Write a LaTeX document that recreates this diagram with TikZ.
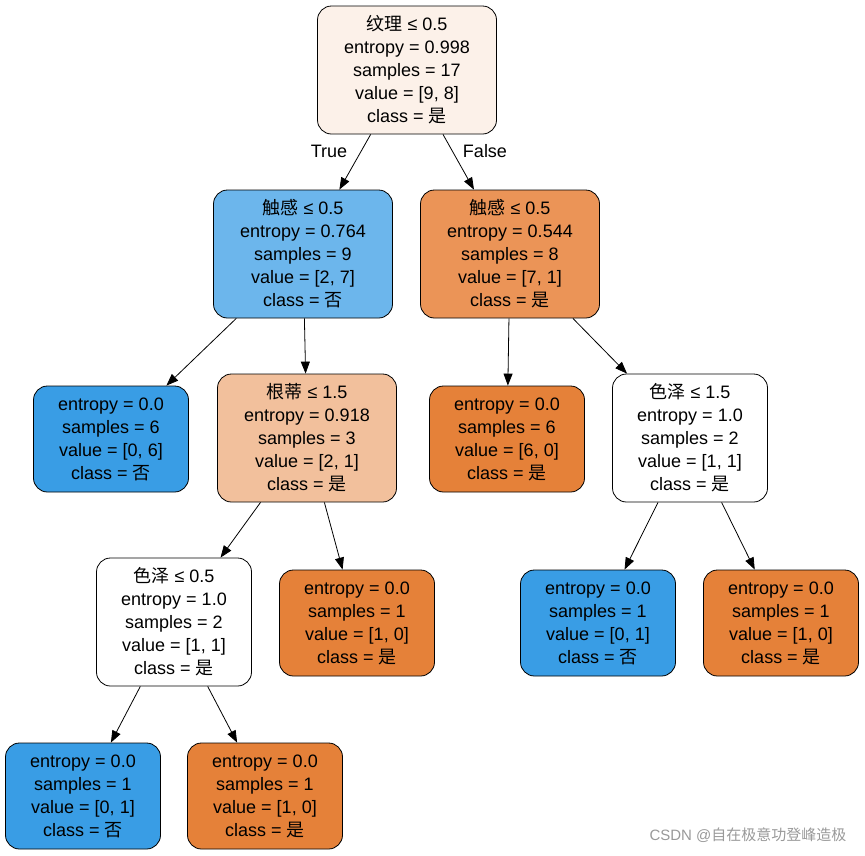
\documentclass[tikz,border=0pt]{standalone}
\usepackage{fontspec}
\setmainfont{Liberation Sans}
\newfontfamily\cjk{Noto Sans CJK SC}
\usetikzlibrary{arrows.meta}
\definecolor{croot}{HTML}{FCF1E9}
\definecolor{cl}{HTML}{6CB6EC}
\definecolor{cr}{HTML}{EB9457}
\definecolor{cb}{HTML}{399DE5}
\definecolor{co}{HTML}{E58139}
\definecolor{cg}{HTML}{F2C09C}
\begin{document}
\begin{tikzpicture}[x=1pt,y=-1pt,
 tn/.style={draw=black,line width=0.8pt,rounded corners=14pt,align=center,font=\fontsize{18}{23}\selectfont,inner sep=0pt},
 big/.style={tn,minimum width=179pt,minimum height=128pt},
 small/.style={tn,minimum width=155pt,minimum height=106pt},
 mid/.style={tn,minimum width=155pt,minimum height=128pt},
 ed/.style={line width=0.8pt,-{Triangle[length=12pt,width=9pt]}}]
\useasboundingbox (0,0) rectangle (865,855);
\node[big,fill=croot] (root) at (407,70) {{\cjk 纹理} ≤ 0.5\\entropy = 0.998\\samples = 17\\value = [9, 8]\\class = {\cjk 是}};
\node[big,fill=cl] (l1) at (303,254) {{\cjk 触感} ≤ 0.5\\entropy = 0.764\\samples = 9\\value = [2, 7]\\class = {\cjk 否}};
\node[big,fill=cr] (r1) at (510,254) {{\cjk 触感} ≤ 0.5\\entropy = 0.544\\samples = 8\\value = [7, 1]\\class = {\cjk 是}};
\node[small,fill=cb] (ll) at (111,439) {entropy = 0.0\\samples = 6\\value = [0, 6]\\class = {\cjk 否}};
\node[big,fill=cg] (gen) at (307,438) {{\cjk 根蒂} ≤ 1.5\\entropy = 0.918\\samples = 3\\value = [2, 1]\\class = {\cjk 是}};
\node[small,fill=co] (rl) at (507,439) {entropy = 0.0\\samples = 6\\value = [6, 0]\\class = {\cjk 是}};
\node[mid,fill=white] (sr) at (690,438) {{\cjk 色泽} ≤ 1.5\\entropy = 1.0\\samples = 2\\value = [1, 1]\\class = {\cjk 是}};
\node[mid,fill=white] (sl) at (174,622) {{\cjk 色泽} ≤ 0.5\\entropy = 1.0\\samples = 2\\value = [1, 1]\\class = {\cjk 是}};
\node[small,fill=co] (g2) at (357,623) {entropy = 0.0\\samples = 1\\value = [1, 0]\\class = {\cjk 是}};
\node[small,fill=cb] (s1) at (598,623) {entropy = 0.0\\samples = 1\\value = [0, 1]\\class = {\cjk 否}};
\node[small,fill=co] (s2) at (781,623) {entropy = 0.0\\samples = 1\\value = [1, 0]\\class = {\cjk 是}};
\node[small,fill=cb] (b1) at (83,796) {entropy = 0.0\\samples = 1\\value = [0, 1]\\class = {\cjk 否}};
\node[small,fill=co] (b2) at (265,796) {entropy = 0.0\\samples = 1\\value = [1, 0]\\class = {\cjk 是}};
\draw[ed] (root) -- (l1);
\draw[ed] (root) -- (r1);
\draw[ed] (l1) -- (ll);
\draw[ed] (l1) -- (gen);
\draw[ed] (r1) -- (rl);
\draw[ed] (r1) -- (sr);
\draw[ed] (gen) -- (sl);
\draw[ed] (gen) -- (g2);
\draw[ed] (sr) -- (s1);
\draw[ed] (sr) -- (s2);
\draw[ed] (sl) -- (b1);
\draw[ed] (sl) -- (b2);
\node[font=\fontsize{18}{23}\selectfont] (tl) at (329,151) {True};
\node[font=\fontsize{18}{23}\selectfont] (fl) at (485,151) {False};
\node[anchor=east,text=gray!80,font=\fontsize{15}{18}\selectfont] (wm) at (850,835) {CSDN @{\cjk 自在极意功登峰造极}};
\end{tikzpicture}
\end{document}
